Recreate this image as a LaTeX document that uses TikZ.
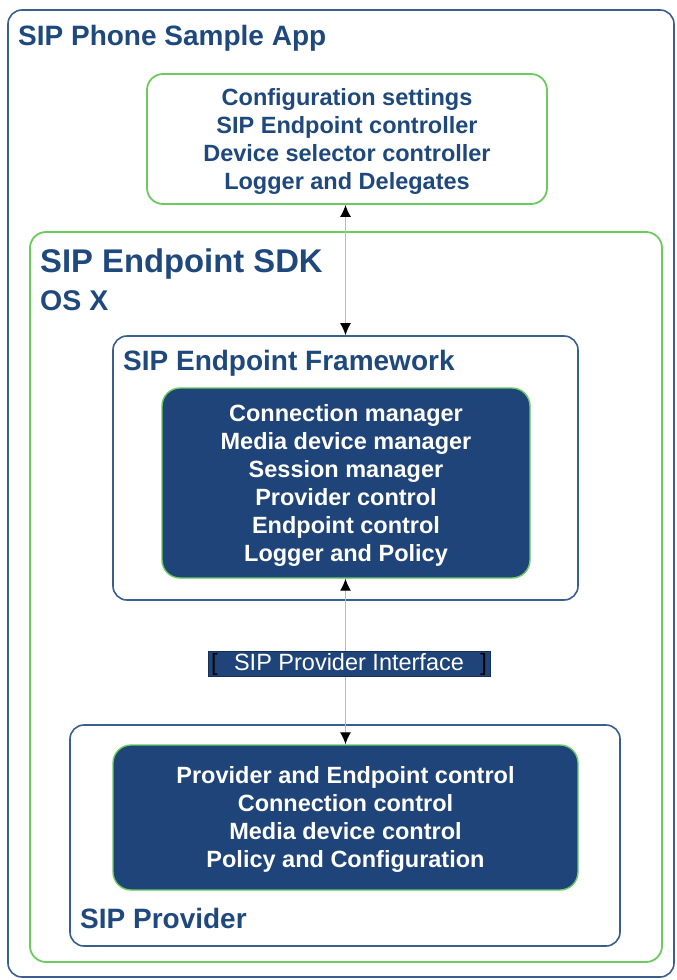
\documentclass[tikz,border=0pt]{standalone}
\usepackage{fontspec}
\setmainfont{Liberation Sans}
\usetikzlibrary{arrows.meta}
\definecolor{tblue}{HTML}{1F497D}
\definecolor{fillblue}{HTML}{1F4479}
\definecolor{lgreen}{HTML}{6CCB5F}
\definecolor{bblue}{HTML}{3A5F8E}
\begin{document}
\begin{tikzpicture}[x=1pt,y=-1pt,
  frame/.style={draw=bblue, line width=1.6pt, rounded corners=14pt, inner sep=0pt, fill=white},
  gframe/.style={draw=lgreen, line width=1.8pt, rounded corners=16pt, inner sep=0pt, fill=white},
  darkbox/.style={draw=lgreen, line width=1.4pt, fill=fillblue, rounded corners=18pt, inner sep=0pt},
  boxtext/.style={inner sep=0pt, align=center, font=\fontsize{23.5}{28}\selectfont\bfseries},
  title/.style={anchor=base west, inner sep=0pt, text=tblue, font=\bfseries},
  link/.style={draw=gray!55, line width=1.2pt, {Latex[black,length=12pt,width=11pt]}-{Latex[black,length=12pt,width=11pt]}}
]
\useasboundingbox (0,0) rectangle (677,980);
\node[frame, minimum width=666pt, minimum height=967pt] (app) at (341,493.5) {};
\node[title, font=\fontsize{28}{32}\selectfont\bfseries] (apptitle) at (18,45) {SIP Phone Sample App};
\node[gframe, minimum width=400pt, minimum height=130pt] (cfg) at (347,139) {};
\node[boxtext, text=tblue] (cfgtext) at (347,141)
  {Configuration settings\\SIP Endpoint controller\\Device selector controller\\Logger and Delegates};
\node[gframe, minimum width=632pt, minimum height=730pt] (sdk) at (346,597) {};
\node[title, font=\fontsize{32.8}{36}\selectfont\bfseries] (sdktitle) at (40,272) {SIP Endpoint SDK};
\node[title, font=\fontsize{28.5}{30}\selectfont\bfseries] (osx) at (40,310) {OS X};
\node[frame, minimum width=465pt, minimum height=264pt] (fw) at (345.5,468) {};
\node[title, font=\fontsize{28}{32}\selectfont\bfseries] (fwtitle) at (123,370) {SIP Endpoint Framework};
\node[darkbox, minimum width=368pt, minimum height=190pt] (fwin) at (346,483) {};
\node[boxtext, text=white] (fwtext) at (346,485)
  {Connection manager\\Media device manager\\Session manager\\Provider control\\Endpoint control\\Logger and Policy};
\node[frame, minimum width=550pt, minimum height=221pt] (prov) at (345,835.5) {};
\node[title, font=\fontsize{28}{32}\selectfont\bfseries] (provtitle) at (80,928) {SIP Provider};
\node[darkbox, minimum width=465pt, minimum height=145pt] (provin) at (345.5,817.5) {};
\node[boxtext, text=white] (provtext) at (345.5,819.5)
  {Provider and Endpoint control\\Connection control\\Media device control\\Policy and Configuration};
\draw[link] (cfg.south -| fw.north) -- (fw.north);
\draw[link] (fwin.south -| fw.north) -- (provin.north -| fw.north);
\node[fill=fillblue, draw=fillblue!70!black, line width=0.8pt, inner sep=0pt, minimum width=282pt, minimum height=25pt,
  text=white, font=\fontsize{23.5}{25}\selectfont] (spi) at (349,664)
  {\makebox[276pt]{\color{black}[\hfill\color{white}SIP Provider Interface\hfill\color{black}]}};
\end{tikzpicture}
\end{document}
